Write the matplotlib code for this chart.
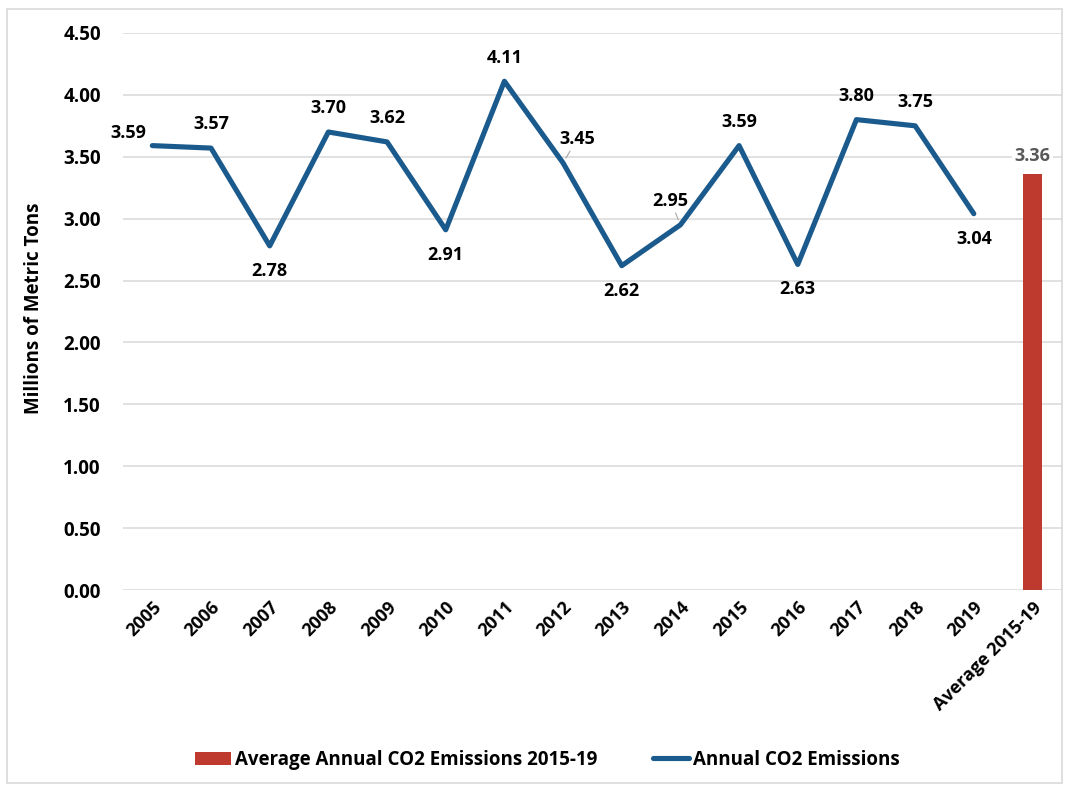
import matplotlib
matplotlib.use("Agg")
import matplotlib.pyplot as plt
from matplotlib.patches import Rectangle

years = ["2005", "2006", "2007", "2008", "2009", "2010", "2011", "2012",
         "2013", "2014", "2015", "2016", "2017", "2018", "2019"]
emissions = [3.59, 3.57, 2.78, 3.70, 3.62, 2.91, 4.11, 3.45,
             2.62, 2.95, 3.59, 2.63, 3.80, 3.75, 3.04]
avg_label = "Average 2015-19"
avg_value = 3.36

# label offsets in points (dx, dy)
offsets = [(-17, 9), (0, 17), (0, -18), (0, 17), (0, 17), (0, -18), (0, 17), (10, 17),
           (0, -18), (-7, 17), (0, 17), (0, -18), (0, 17), (0, 17), (0, -18)]

plt.rcParams['font.family'] = ['Open Sans', 'DejaVu Sans']
plt.rcParams['font.weight'] = 'bold'

fig = plt.figure(figsize=(10.65, 7.85), dpi=100)
ax = fig.add_axes([0.1155, 0.2484, 0.8815, 0.7096])

blue = "#1b5a8c"
red = "#be3a2f"
cats = years + [avg_label]
x = list(range(len(years)))

bars = ax.bar([len(years)], [avg_value], width=0.31, color=red,
              label="Average Annual CO2 Emissions 2015-19", zorder=2)
line, = ax.plot(x, emissions, color=blue, lw=3.7, solid_joinstyle='round',
                solid_capstyle='round', label="Annual CO2 Emissions", zorder=3)

for xi, v, (dx, dy) in zip(x, emissions, offsets):
    lead = dict(arrowstyle='-', color='#a6a6a6', lw=0.8, shrinkA=0, shrinkB=4) if xi in (7, 9) else None
    ax.annotate(f"{v:.2f}", (xi, v), xytext=(dx, dy), textcoords='offset points',
                ha='center', va='center', fontsize=13, fontweight='bold',
                color='black', arrowprops=lead, zorder=4)

ax.annotate(f"{avg_value:.2f}", (len(years), avg_value), xytext=(0, 13),
            textcoords='offset points', ha='center', va='center', fontsize=13,
            fontweight='bold', color='#595959',
            bbox=dict(boxstyle='square,pad=0.15', fc='white', ec='none'), zorder=4)

ax.set_xlim(-0.5, len(cats) - 0.5)
ax.set_ylim(0, 4.5)
ax.set_yticks([i * 0.5 for i in range(10)])
ax.set_yticklabels([f"{i * 0.5:.2f}" for i in range(10)], fontsize=13.5, fontweight='bold')
ax.set_xticks(range(len(cats)))
ax.set_xticklabels(cats, rotation=45, ha='right', rotation_mode='anchor',
                   fontsize=13, fontweight='bold')
ax.tick_params(length=0, axis='both')
ax.tick_params(axis='y', pad=16)
ax.tick_params(axis='x', pad=6)
ax.grid(axis='y', color='#d9d9d9', lw=1.1, zorder=0)
ax.set_axisbelow(True)
for s in ax.spines.values():
    s.set_visible(False)
ax.set_ylabel("Millions of Metric Tons", fontsize=13.5, fontweight='bold')
ax.yaxis.set_label_coords(-0.084, 0.505)

fig.legend([bars, line], [bars.get_label(), line.get_label()], loc='center',
           bbox_to_anchor=(0.514, 0.032), ncol=2, frameon=False, handlelength=1.9,
           handletextpad=0.2, columnspacing=3.0, prop={'weight': 'bold', 'size': 13.5})

fig.patches.append(Rectangle((0.007, 0.003), 0.99, 0.985, transform=fig.transFigure,
                             fill=False, ec='#d9d9d9', lw=1.2))

fig.savefig("out.png", dpi=100)
